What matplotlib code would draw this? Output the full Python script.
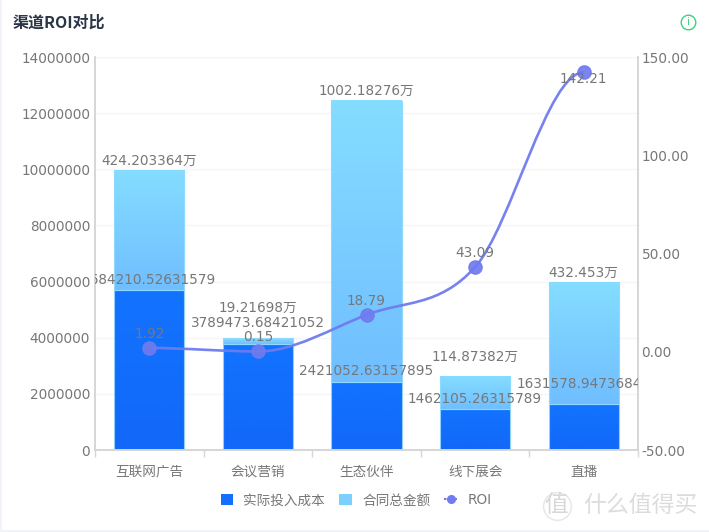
import matplotlib
matplotlib.use("Agg")
import numpy as np
import matplotlib.pyplot as plt
from matplotlib.lines import Line2D
from matplotlib.patches import Patch, PathPatch, Rectangle
from matplotlib.path import Path
from matplotlib.colors import LinearSegmentedColormap

plt.rcParams['font.family'] = ['DejaVu Sans', 'Noto Sans CJK SC']

categories = ['互联网广告', '会议营销', '生态伙伴', '线下展会', '直播']
actual_cost = [5684210.52631579, 3789473.68421052, 2421052.63157895, 1462105.26315789, 1631578.94736842]
contract = [4242033.64, 192169.8, 10021827.6, 1148738.2, 4324530.0]
roi = [1.92, 0.15, 18.79, 43.09, 142.21]
actual_labels = ['5684210.52631579', '3789473.68421052', '2421052.63157895', '1462105.26315789', '1631578.94736842']
contract_labels = ['424.203364万', '19.21698万', '1002.18276万', '114.87382万', '432.453万']
roi_labels = ['1.92', '0.15', '18.79', '43.09', '142.21']
left_ticks = [0, 2000000, 4000000, 6000000, 8000000, 10000000, 12000000, 14000000]
right_ticks = [-50, 0, 50, 100, 150]
# label offsets above the anchor, in pixels (styling)
actual_off = [10.5, 21, 11.5, 10, 20]
contract_off = [10, 30, 10, 20, 10]
roi_off = [14, 14, 14, 14, -7]

W, H = 709, 532
TXT = '#777777'
FS = 9.8
fig = plt.figure(figsize=(W / 100, H / 100), dpi=100, facecolor='white')
ax = fig.add_axes([95 / W, 1 - 450 / H, 543 / W, 393 / H])
ax.set_facecolor('none')
ax2 = ax.twinx()
ax2.set_facecolor('none')
x = np.arange(len(categories))
ax.set_xlim(-0.5, 4.5)
ax.set_ylim(0, 14000000)
ax2.set_ylim(-50, 150)

ax.set_yticks(left_ticks)
ax.set_yticklabels([str(v) for v in left_ticks], fontsize=FS, color=TXT)
ax.grid(axis='y', color='#f5f5f5', lw=1)
ax.set_axisbelow(True)
ax2.set_yticks(right_ticks)
ax2.set_yticklabels([f'{v:.2f}' for v in right_ticks], fontsize=FS, color=TXT)
ax.set_xticks(x, categories, fontsize=FS, color=TXT)
ax.set_xticks(np.arange(-0.5, 5.0, 1), minor=True)
ax.tick_params(axis='x', which='major', length=0, pad=10.5)
ax.tick_params(axis='x', which='minor', length=5, color='#d6d6d6', width=1)
ax.tick_params(axis='y', length=0, pad=3.5)
ax2.tick_params(axis='y', length=0, pad=2.5)
for a in (ax, ax2):
    for s in a.spines.values():
        s.set_color('#d6d6d6')
        s.set_linewidth(1.2)
    a.spines['top'].set_visible(False)

cm_dark = LinearSegmentedColormap.from_list('d', ['#1273FF', '#1268F8'])
cm_light = LinearSegmentedColormap.from_list('l', ['#84DDFF', '#70BEFF'])
grad = np.linspace(0, 1, 128).reshape(-1, 1)
bars_d = ax.bar(x, actual_cost, width=0.645, facecolor='none', edgecolor='#8fd0ff', lw=0.8, zorder=3)
bars_l = ax.bar(x, contract, width=0.645, bottom=actual_cost, facecolor='none', edgecolor='#8fd8ff', lw=0.8, zorder=3)
for bars, cm in ((bars_d, cm_dark), (bars_l, cm_light)):
    for b in bars:
        ax.imshow(grad, cmap=cm, aspect='auto', origin='upper', zorder=2,
                  extent=[b.get_x(), b.get_x() + b.get_width(), b.get_y(), b.get_y() + b.get_height()])
ax.set_xlim(-0.5, 4.5)
ax.set_ylim(0, 14000000)

# smooth curve through the points; tangents flat at the ends and at local extrema
fig.canvas.draw()
pts = ax2.transData.transform(np.column_stack([x, roi]))
n = len(pts)
slopes = np.zeros(n)
for i in range(1, n - 1):
    d0 = pts[i][1] - pts[i - 1][1]
    d1 = pts[i + 1][1] - pts[i][1]
    if d0 * d1 > 0:
        slopes[i] = (pts[i + 1][1] - pts[i - 1][1]) / (pts[i + 1][0] - pts[i - 1][0])
verts = [pts[0]]
codes = [Path.MOVETO]
for i in range(n - 1):
    h = (pts[i + 1][0] - pts[i][0]) / 3
    verts += [pts[i] + [h, slopes[i] * h], pts[i + 1] - [h, slopes[i + 1] * h], pts[i + 1]]
    codes += [Path.CURVE4] * 3
line_c = '#6F7BEE'
ax2.add_patch(PathPatch(Path(verts, codes), transform=None, fc='none', ec=line_c, lw=1.9, alpha=0.95, zorder=4))
ax2.plot(x, roi, ls='none', marker='o', ms=9.5, mfc=line_c, mec=line_c, alpha=0.92, zorder=5)


def label(i, yval, s, trans_ax, off):
    ax2.annotate(s, (x[i], yval), xycoords=trans_ax.transData, xytext=(0, off * 0.72),
                 textcoords='offset points', ha='center', va='center', fontsize=FS,
                 color=TXT, zorder=8, annotation_clip=False, clip_on=True).set_clip_box(ax2.bbox)


tops = [a + c for a, c in zip(actual_cost, contract)]
for i in range(5):
    label(i, actual_cost[i], actual_labels[i], ax, actual_off[i])
    label(i, tops[i], contract_labels[i], ax, contract_off[i])
    label(i, roi[i], roi_labels[i], ax2, roi_off[i])

# title, info icon
fig.text(13 / W, 1 - 23 / H, '渠道ROI对比', fontsize=11.5, fontweight='bold', color='#2A3547',
         va='center', ha='left', family=['Noto Sans CJK SC'])
fig.add_artist(Line2D([688 / W], [1 - 22 / H], transform=fig.transFigure, marker='o', ms=10.5, mfc='none',
                      mec='#3FCF7F', mew=1.0, ls='none'))
fig.text(688 / W, 1 - 22 / H, 'i', fontsize=7.5, color='#3FCF7F', ha='center', va='center')

# legend
handles = [Patch(fc='#1270FF', label='实际投入成本'), Patch(fc='#7CD0FF', label='合同总金额'),
           Line2D([], [], color=line_c, marker='o', ms=5.5, lw=1.5, ls=(0, (1.2, 0.6)), label='ROI')]
fig.legend(handles=handles, loc='center', bbox_to_anchor=(356 / W, 1 - 500.5 / H), ncol=3, frameon=False,
           labelcolor=TXT, handlelength=0.93, handleheight=0.9, handletextpad=0.74, columnspacing=1.04,
           prop={'family': ['DejaVu Sans', 'Noto Sans CJK SC'], 'size': FS})

# page edges and watermark
fig.add_artist(Rectangle((0, 0), 2 / W, 1, transform=fig.transFigure, fc='#F2F3FA', ec='none'))
fig.add_artist(Rectangle((0, 0), 1, 2 / H, transform=fig.transFigure, fc='#F2F3FA', ec='none'))
fig.text(640 / W, 1 - 505 / H, '什么值得买', fontsize=16.5, color='#DCDCDC', ha='center', va='center',
         family=['Noto Sans CJK SC'])
fig.text(556 / W, 1 - 505 / H, '值', fontsize=17, color='#D8D8D8', ha='center', va='center',
         family=['Noto Sans CJK SC'])
fig.add_artist(Line2D([556.5 / W], [1 - 506 / H], transform=fig.transFigure, marker='o', ms=20, mfc='none',
                      mec='#E6E6E6', mew=1.0, ls='none'))

fig.savefig('out.png', dpi=100, facecolor='white')
